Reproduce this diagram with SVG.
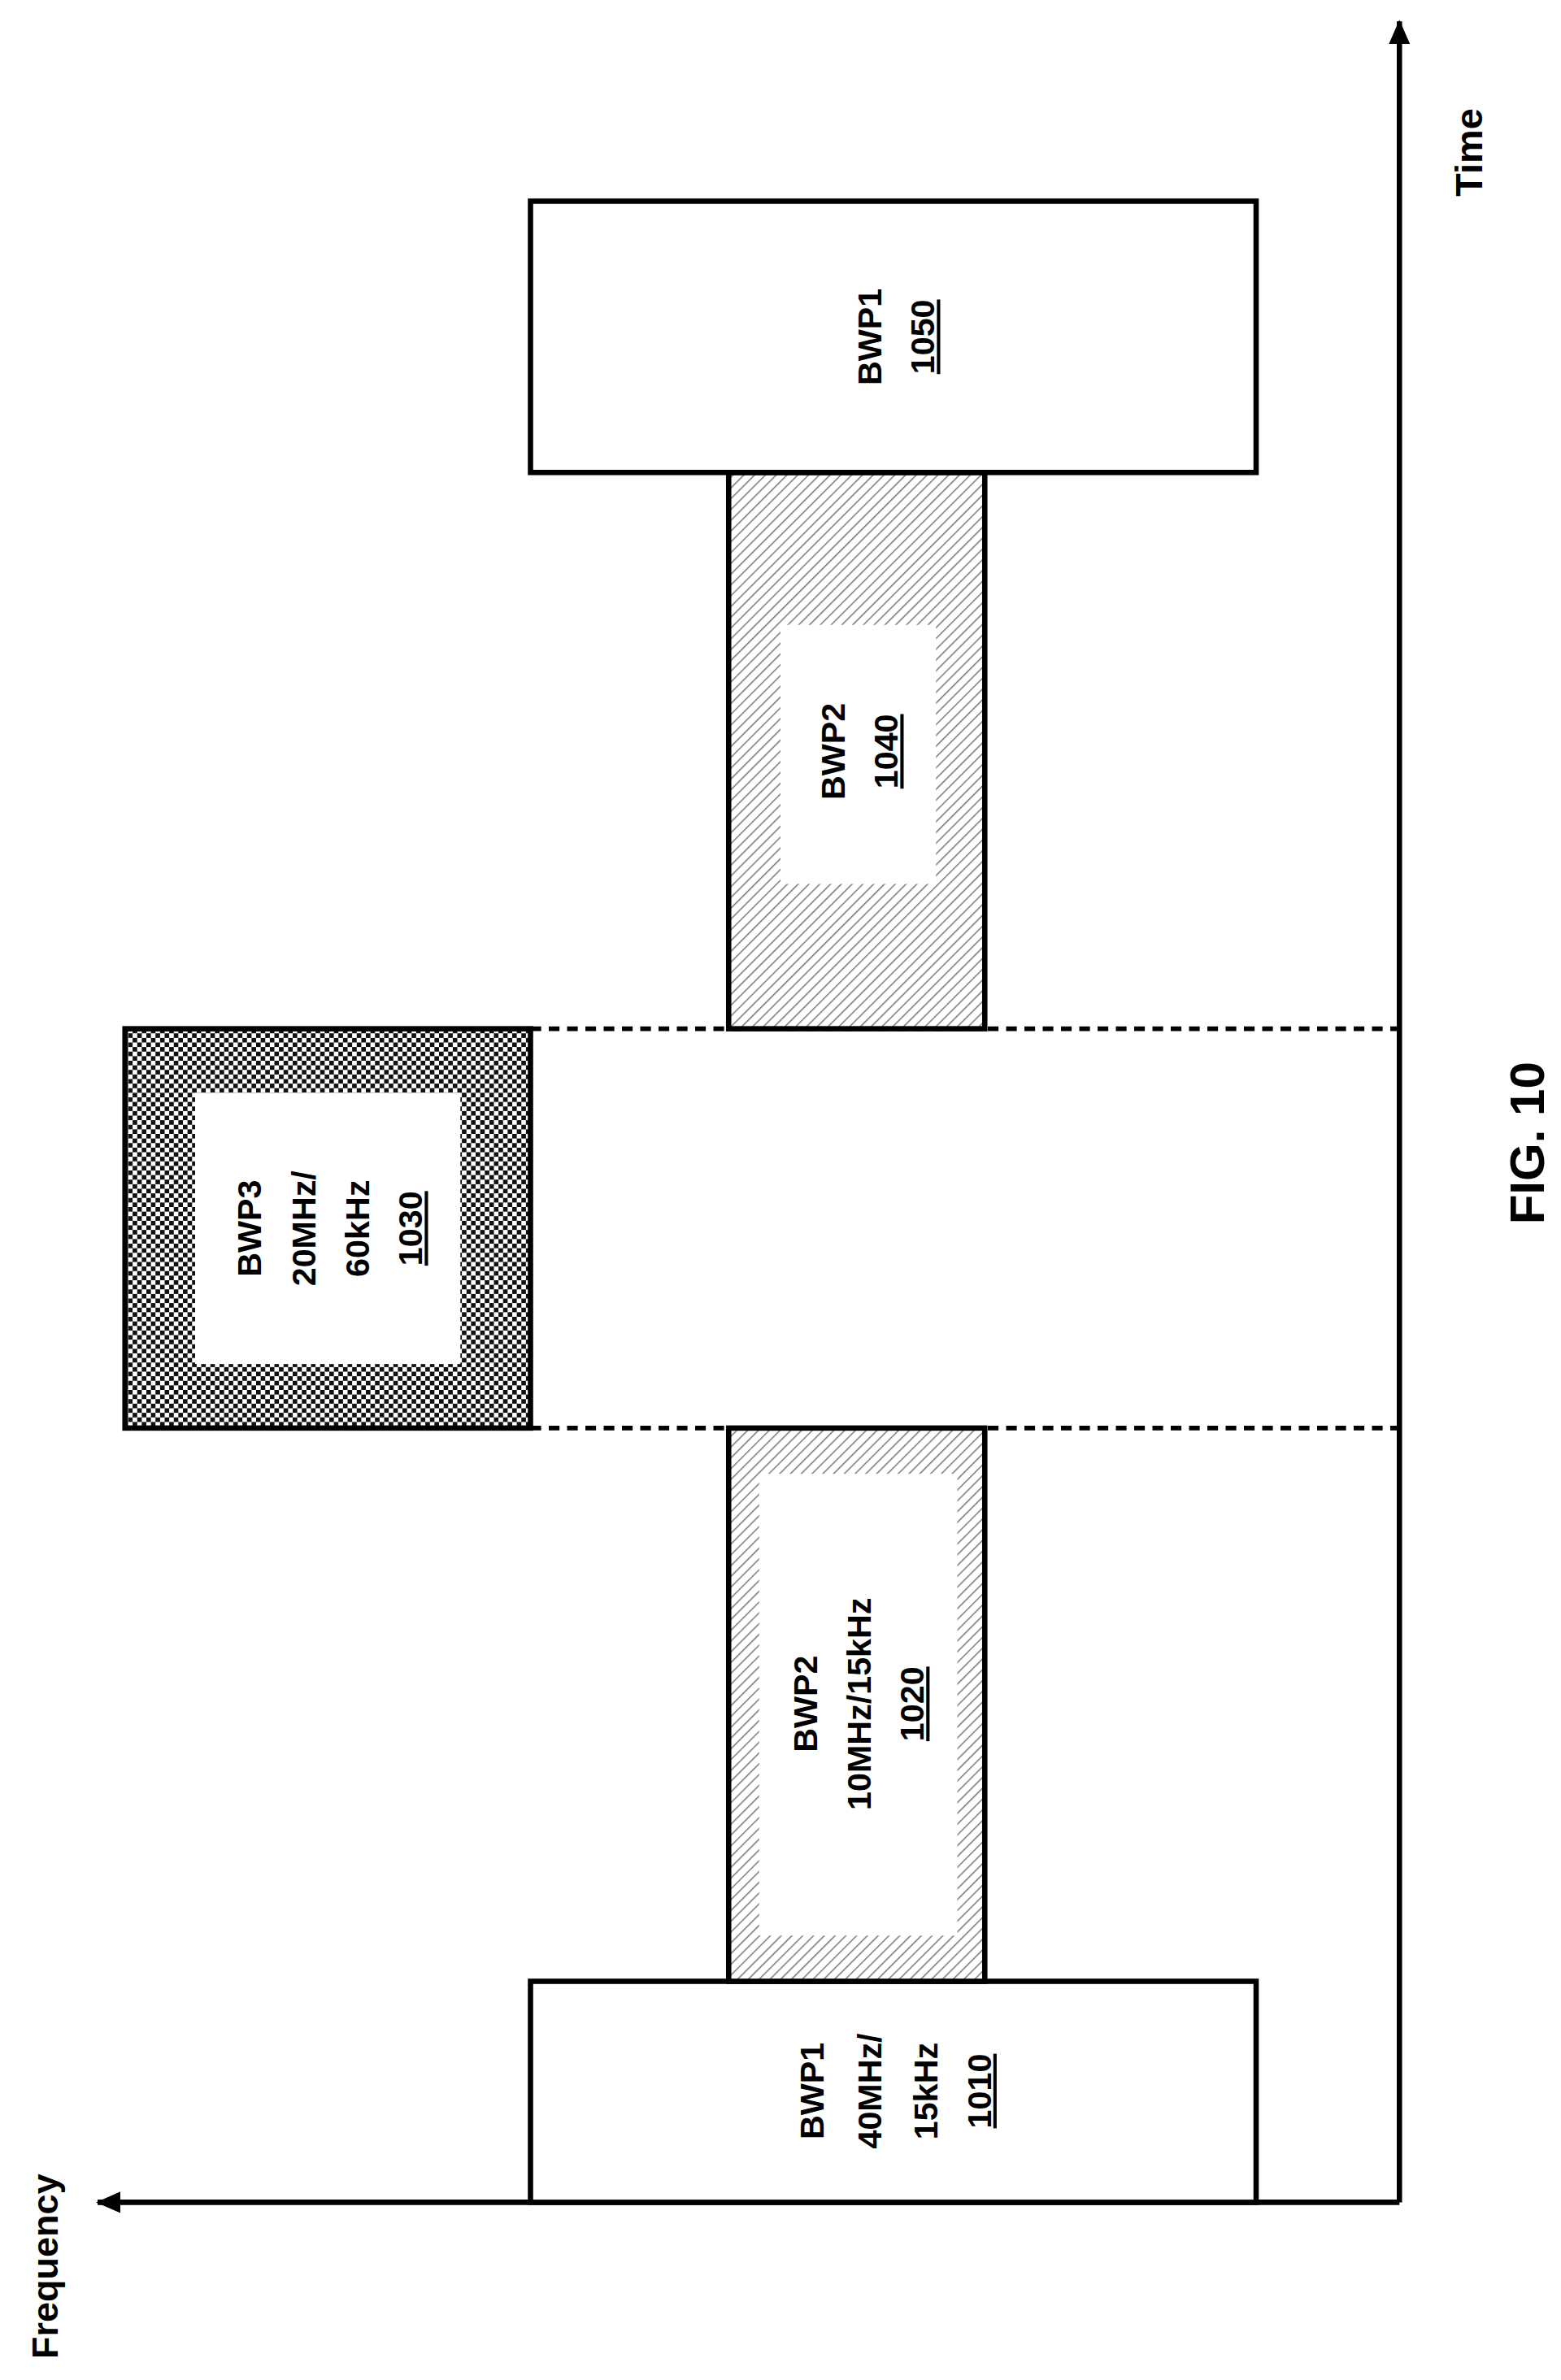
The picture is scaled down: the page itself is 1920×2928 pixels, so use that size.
<svg xmlns="http://www.w3.org/2000/svg" width="1920" height="2928" viewBox="0 0 1920 2928">
<style>
.b{fill:#fff;stroke:#000;stroke-width:3.5}
.t{font-family:"Liberation Sans",Arial,sans-serif;font-weight:bold;font-size:22px;text-anchor:middle;fill:#000}
.ax{stroke:#000;stroke-width:3.5;fill:none}
.d{stroke:#000;stroke-width:3;stroke-dasharray:7,5}
</style>
<defs>
<pattern id="h" patternUnits="userSpaceOnUse" width="5" height="5" patternTransform="rotate(45)"><rect width="5" height="5" fill="#fff"/><line x1="0" y1="0" x2="0" y2="5" stroke="#777" stroke-width="1.6"/></pattern>
<pattern id="c" patternUnits="userSpaceOnUse" width="6" height="6"><rect width="6" height="6" fill="#fff"/><rect width="3" height="3" fill="#111"/><rect x="3" y="3" width="3" height="3" fill="#111"/></pattern>
<marker id="a" markerWidth="16" markerHeight="14" refX="15" refY="7" orient="auto" markerUnits="userSpaceOnUse"><path d="M0,0 L16,7 L0,14 z" fill="#000"/></marker>
</defs>
<g transform="scale(1.875)">
<g id="connectors">
<path class="ax" d="M918,1445 L918,14" marker-end="url(#a)"/>
<path class="ax" d="M918,1445 L64,1445" marker-end="url(#a)"/>
<line class="d" x1="348" y1="675" x2="918" y2="675"/>
<line class="d" x1="348" y1="937" x2="918" y2="937"/>
</g>
<g id="bwp1_1010"><rect class="b" x="348" y="1300" width="476" height="145"/>
<text class="t" transform="translate(586,1372) rotate(-90)"><tspan x="0" y="-46">BWP1</tspan><tspan x="0" y="-8">40MHz/</tspan><tspan x="0" y="29">15kHz</tspan><tspan x="0" y="64" text-decoration="underline">1010</tspan></text></g>
<g id="bwp2_1020"><rect x="478" y="937" width="168" height="363" fill="url(#h)" stroke="#000" stroke-width="3.5"/>
<rect x="498" y="967" width="130" height="303" fill="#fff"/>
<text class="t" transform="translate(562,1118) rotate(-90)"><tspan x="0" y="-26">BWP2</tspan><tspan x="0" y="9">10MHz/15kHz</tspan><tspan x="0" y="44" text-decoration="underline">1020</tspan></text></g>
<g id="bwp3_1030"><rect x="82" y="675" width="266" height="262" fill="url(#c)" stroke="#000" stroke-width="3.5"/>
<rect x="128" y="717" width="174" height="178" fill="#fff"/>
<text class="t" transform="translate(215,806) rotate(-90)"><tspan x="0" y="-44">BWP3</tspan><tspan x="0" y="-8">20MHz/</tspan><tspan x="0" y="27">60kHz</tspan><tspan x="0" y="62" text-decoration="underline">1030</tspan></text></g>
<g id="bwp2_1040"><rect x="478" y="310" width="168" height="365" fill="url(#h)" stroke="#000" stroke-width="3.5"/>
<rect x="512" y="410" width="102" height="170" fill="#fff"/>
<text class="t" transform="translate(562,493) rotate(-90)"><tspan x="0" y="-8">BWP2</tspan><tspan x="0" y="27" text-decoration="underline">1040</tspan></text></g>
<g id="bwp1_1050"><rect class="b" x="348" y="132" width="476" height="178"/>
<text class="t" transform="translate(586,221) rotate(-90)"><tspan x="0" y="-8">BWP1</tspan><tspan x="0" y="27" text-decoration="underline">1050</tspan></text></g>
<text class="t" transform="translate(38,1487) rotate(-90)" style="font-size:24px">Frequency</text>
<text class="t" transform="translate(972,100) rotate(-90)" style="font-size:25px">Time</text>
<text class="t" transform="translate(1013,750) rotate(-90)" style="font-size:32px">FIG. 10</text>
</g>
</svg>
